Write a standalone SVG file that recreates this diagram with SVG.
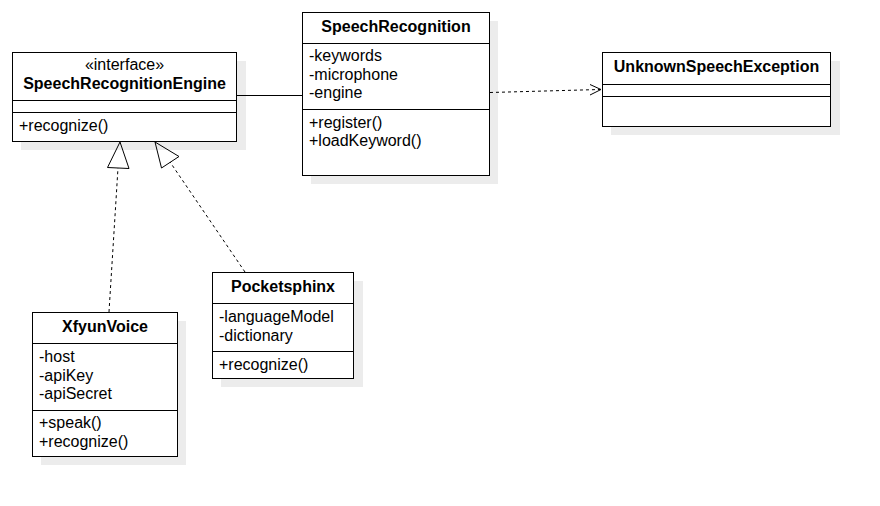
<svg xmlns="http://www.w3.org/2000/svg" width="880" height="506" viewBox="0 0 880 506">
<style>
.box{fill:#fff;stroke:#000;stroke-width:1}
.sh{fill:#ececec}
.ln{stroke:#000;stroke-width:1;fill:none}
.dash{stroke:#000;stroke-width:1;fill:none;stroke-dasharray:3,3}
text{font-family:"Liberation Sans",Arial,sans-serif;font-size:16px;fill:#000}
.t{font-weight:bold;text-anchor:middle}
.c{text-anchor:middle}
</style>
<rect width="880" height="506" fill="#fff"/>
<g id="SpeechRecognitionEngine">
<rect class="sh" x="21" y="61" width="225" height="89"/>
<rect class="box" x="12.5" y="52.5" width="224" height="89"/>
<line class="ln" x1="12.5" y1="100.5" x2="236.5" y2="100.5"/>
<line class="ln" x1="12.5" y1="112.5" x2="236.5" y2="112.5"/>
<text class="c" x="124.5" y="70">«interface»</text>
<text class="t" x="124.5" y="89">SpeechRecognitionEngine</text>
<text x="19" y="131">+recognize()</text>
</g>
<g id="SpeechRecognition">
<rect class="sh" x="311" y="21" width="187" height="163"/>
<rect class="box" x="302.5" y="12.5" width="187" height="163"/>
<line class="ln" x1="302.5" y1="43.5" x2="489.5" y2="43.5"/>
<line class="ln" x1="302.5" y1="109.5" x2="489.5" y2="109.5"/>
<text class="t" x="396" y="32">SpeechRecognition</text>
<text x="309" y="61">-keywords</text>
<text x="309" y="79.5">-microphone</text>
<text x="309" y="98">-engine</text>
<text x="309" y="128">+register()</text>
<text x="309" y="146">+loadKeyword()</text>
</g>
<g id="UnknownSpeechException">
<rect class="sh" x="611" y="61" width="229" height="74"/>
<rect class="box" x="602.5" y="52.5" width="228" height="74"/>
<line class="ln" x1="602.5" y1="84.5" x2="830.5" y2="84.5"/>
<line class="ln" x1="602.5" y1="96.5" x2="830.5" y2="96.5"/>
<text class="t" x="716.5" y="72">UnknownSpeechException</text>
</g>
<g id="XfyunVoice">
<rect class="sh" x="41" y="321" width="145" height="144"/>
<rect class="box" x="32.5" y="312.5" width="145" height="144"/>
<line class="ln" x1="32.5" y1="343.5" x2="177.5" y2="343.5"/>
<line class="ln" x1="32.5" y1="410.5" x2="177.5" y2="410.5"/>
<text class="t" x="105" y="332">XfyunVoice</text>
<text x="39" y="362">-host</text>
<text x="39" y="380.5">-apiKey</text>
<text x="39" y="399">-apiSecret</text>
<text x="39" y="428">+speak()</text>
<text x="39" y="446.5">+recognize()</text>
</g>
<g id="Pocketsphinx">
<rect class="sh" x="221" y="281" width="142" height="106"/>
<rect class="box" x="212.5" y="272.5" width="141" height="106"/>
<line class="ln" x1="212.5" y1="303.5" x2="353.5" y2="303.5"/>
<line class="ln" x1="212.5" y1="351.5" x2="353.5" y2="351.5"/>
<text class="t" x="283" y="292">Pocketsphinx</text>
<text x="219" y="321.5">-languageModel</text>
<text x="219" y="340.5">-dictionary</text>
<text x="219" y="370">+recognize()</text>
</g>
<g id="connectors">
<line class="ln" x1="237" y1="95.5" x2="302" y2="95.5"/>
<line class="dash" x1="490" y1="92.5" x2="600" y2="89.5"/>
<polyline class="ln" points="590,84.5 601,89.5 590,95"/>
<line class="dash" x1="109" y1="312" x2="118" y2="168"/>
<polygon class="ln" fill="#fff" points="120,142 107.5,167.5 129,168.5"/>
<line class="dash" x1="245" y1="272" x2="170" y2="162"/>
<polygon class="ln" fill="#fff" points="155,142 161.5,168 179,156.5"/>
</g>
</svg>
